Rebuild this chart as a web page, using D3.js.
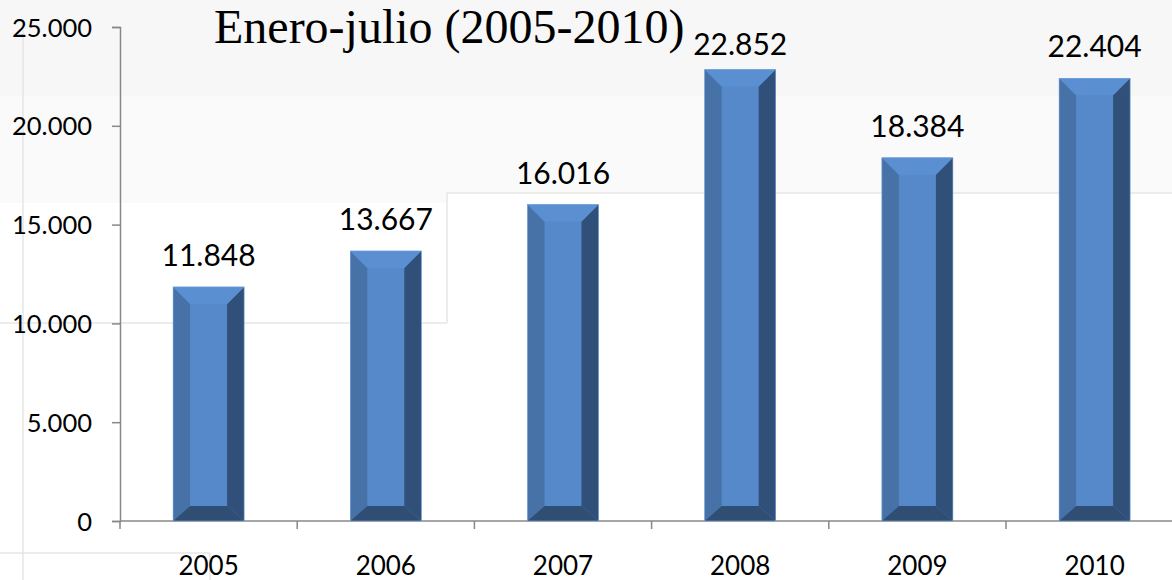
<!DOCTYPE html>
<html>
<head>
<meta charset="utf-8">
<script src="https://cdn.jsdelivr.net/npm/d3@7"></script>
<style>
  body { margin: 0; background: #fff; }
  svg { display: block; }
  .tick text { font-family: Lato, "Open Sans", sans-serif; fill: #000; }
</style>
</head>
<body>
<svg id="chart" width="1172" height="580"></svg>
<script>
var years = ["2005", "2006", "2007", "2008", "2009", "2010"];
var values = [11848, 13667, 16016, 22852, 18384, 22404];
var yTicks = [0, 5000, 10000, 15000, 20000, 25000];
var title = "Enero-julio (2005-2010)";

var svg = d3.select("#chart");
var plotLeft = 120, plotTop = 27, plotBottom = 521, bandW = 177.2;

// faint slide background behind the chart
svg.append("rect").attr("x", 0).attr("y", 0).attr("width", 1172).attr("height", 96).attr("fill", "#f7f7f7");
svg.append("path")
    .attr("d", "M0,96 H1172 V193 H447 V203 H0 Z")
    .attr("fill", "#fafafa");
var bgLines = [
    [23, 30, 23, 580], [0, 323, 447, 323], [447, 193, 447, 323],
    [447, 193, 1172, 193], [0, 553, 210, 553], [210, 553, 210, 580]
];
svg.selectAll(".bg").data(bgLines).enter().append("line")
    .attr("x1", d => d[0]).attr("y1", d => d[1])
    .attr("x2", d => d[2]).attr("y2", d => d[3])
    .attr("stroke", "#e6e6e6").attr("stroke-width", 1.5);

var x = d3.scaleBand().domain(years).range([plotLeft, plotLeft + bandW * years.length]);
var y = d3.scaleLinear().domain([0, 25000]).range([plotBottom, plotTop]);
var fmt = d3.formatLocale({ decimal: ",", thousands: ".", grouping: [3] }).format(",");

// y axis
var yAxis = svg.append("g")
    .attr("transform", "translate(" + plotLeft + ",0)")
    .call(d3.axisLeft(y).tickValues(yTicks).tickFormat(fmt).tickSize(8).tickPadding(20));
yAxis.selectAll("text").style("font-size", "25.5px").attr("dy", "0.36em");
yAxis.selectAll("path, line").attr("stroke", "#888").attr("stroke-width", 1.5);

// x axis with ticks at category boundaries
var xg = svg.append("g").attr("transform", "translate(0," + plotBottom + ")");
xg.append("line").attr("x1", plotLeft).attr("x2", 1172).attr("stroke", "#888").attr("stroke-width", 1.5);
xg.selectAll(".bt").data(d3.range(years.length + 1)).enter().append("line")
    .attr("x1", i => plotLeft + i * bandW).attr("x2", i => plotLeft + i * bandW)
    .attr("y1", 0).attr("y2", 8).attr("stroke", "#888").attr("stroke-width", 1.5);
xg.selectAll(".lbl").data(years).enter().append("text")
    .attr("x", d => x(d) + x.bandwidth() / 2)
    .attr("y", 54)
    .attr("text-anchor", "middle")
    .style("font-family", "Lato, 'Open Sans', sans-serif")
    .style("font-size", "26px")
    .text(d => d);

// bevelled bars
var barW = 71, bev = 17, bevTop = 17, bevBot = 15;
var bars = svg.selectAll(".bar").data(values).enter().append("g");
bars.each(function (v, i) {
    var g = d3.select(this);
    var cx = x(years[i]) + x.bandwidth() / 2;
    var x0 = cx - barW / 2, x1 = cx + barW / 2;
    var y0 = y(v), y1 = y(0);
    var pts = function (a) { return a.map(p => p.join(",")).join(" "); };
    g.append("rect").attr("x", x0).attr("y", y0).attr("width", barW).attr("height", y1 - y0).attr("fill", "#5589c9");
    g.append("polygon").attr("fill", "#4672a8")
        .attr("points", pts([[x0, y0], [x0 + bev, y0 + bevTop], [x0 + bev, y1 - bevBot], [x0, y1]]));
    g.append("polygon").attr("fill", "#30507a")
        .attr("points", pts([[x1, y0], [x1 - bev, y0 + bevTop], [x1 - bev, y1 - bevBot], [x1, y1]]));
    g.append("polygon").attr("fill", "#5a8fd1")
        .attr("points", pts([[x0, y0], [x1, y0], [x1 - bev, y0 + bevTop], [x0 + bev, y0 + bevTop]]));
    g.append("polygon").attr("fill", "#304d74")
        .attr("points", pts([[x0, y1], [x1, y1], [x1 - bev, y1 - bevBot], [x0 + bev, y1 - bevBot]]));
    g.append("rect").attr("x", x0).attr("y", y0).attr("width", barW).attr("height", y1 - y0)
        .attr("fill", "none").attr("stroke", "#7aa3d8").attr("stroke-width", 0.6);
    g.append("text")
        .attr("x", cx)
        .attr("y", Math.max(y0 - 21, 55))
        .attr("text-anchor", "middle")
        .style("font-family", "Lato, 'Open Sans', sans-serif")
        .style("font-size", "30px")
        .text(fmt(v));
});

svg.append("text")
    .attr("x", 214).attr("y", 43)
    .style("font-family", "'Liberation Serif', 'Times New Roman', serif")
    .style("font-size", "48px")
    .text(title);
</script>
</body>
</html>
